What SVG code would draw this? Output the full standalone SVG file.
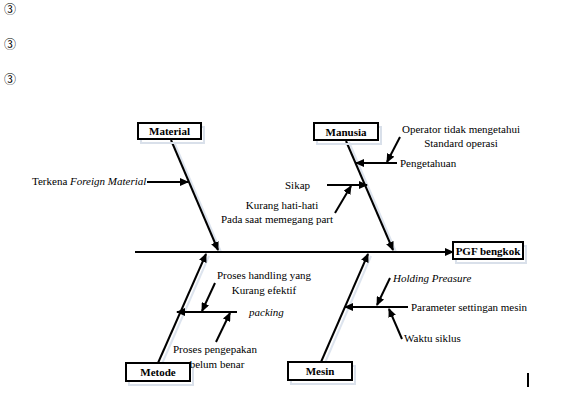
<svg xmlns="http://www.w3.org/2000/svg" width="566" height="403" viewBox="0 0 566 403">
<style>
text{font-family:"Liberation Serif","Times New Roman",serif;font-size:11px;fill:#000}
.b{font-weight:bold}
.i{font-style:italic}
.box{fill:#fff;stroke:#000;stroke-width:2}
.sh{fill:none;stroke:#d9e0ea;stroke-width:2}
.ln{stroke:#000;stroke-width:2;fill:none;marker-end:url(#ah)}
.bs{stroke:#dde4ee;stroke-width:2;fill:none}
.sym{font-family:"Noto Sans CJK SC","DejaVu Sans",sans-serif;font-size:12px}
</style>
<defs>
<marker id="ah" markerUnits="userSpaceOnUse" markerWidth="9" markerHeight="8" refX="8" refY="4" orient="auto">
<path d="M0,0 L9,4 L0,8 z" fill="#000"/>
</marker>
</defs>
<rect width="566" height="403" fill="#fff"/>
<g id="bullets">
<text class="sym" x="4" y="13.5">③</text>
<text class="sym" x="4" y="48.5">③</text>
<text class="sym" x="4" y="83.5">③</text>
</g>
<g id="connectors">
<line class="bs" x1="174" y1="142" x2="221" y2="252"/>
<line class="bs" x1="349" y1="142" x2="396" y2="252"/>
<line class="bs" x1="161" y1="366" x2="209" y2="256"/>
<line class="bs" x1="324" y1="365" x2="371" y2="256"/>
<line class="ln" x1="135" y1="252" x2="453" y2="252"/>
<line class="ln" x1="171" y1="140" x2="218" y2="250"/>
<line class="ln" x1="346" y1="141" x2="393" y2="250"/>
<line class="ln" x1="158" y1="363" x2="206" y2="254"/>
<line class="ln" x1="321" y1="362" x2="368" y2="254"/>
<line class="ln" x1="147" y1="182" x2="188" y2="182"/>
<line class="ln" x1="397" y1="163" x2="356" y2="163"/>
<line class="ln" x1="400" y1="137" x2="387" y2="162"/>
<line class="ln" x1="327" y1="185" x2="367" y2="185"/>
<line class="ln" x1="335" y1="213" x2="351" y2="186"/>
<line class="ln" x1="237" y1="312" x2="177" y2="312"/>
<line class="ln" x1="215" y1="283" x2="202" y2="311"/>
<line class="ln" x1="216" y1="342" x2="230" y2="313"/>
<line class="ln" x1="408" y1="307" x2="345" y2="307"/>
<line class="ln" x1="390" y1="278" x2="377" y2="305"/>
<line class="ln" x1="402" y1="339" x2="389" y2="309"/>
</g>
<g id="material">
<rect class="sh" x="141" y="127" width="63" height="16"/>
<rect class="box" x="138" y="123" width="63" height="16"/>
<text class="b" x="169.5" y="135" text-anchor="middle">Material</text>
</g>
<g id="manusia">
<rect class="sh" x="317" y="127" width="64" height="17"/>
<rect class="box" x="314" y="123" width="64" height="17"/>
<text class="b" x="346" y="135.5" text-anchor="middle">Manusia</text>
</g>
<g id="metode">
<rect class="sh" x="129" y="367" width="64" height="18"/>
<rect class="box" x="126" y="363" width="64" height="18"/>
<text class="b" x="158" y="376" text-anchor="middle">Metode</text>
</g>
<g id="mesin">
<rect class="sh" x="291" y="366" width="64" height="18"/>
<rect class="box" x="288" y="362" width="64" height="18"/>
<text class="b" x="320" y="375" text-anchor="middle">Mesin</text>
</g>
<g id="pgf">
<rect class="sh" x="456" y="246" width="70" height="17"/>
<rect class="box" x="453" y="242" width="70" height="17"/>
<text class="b" x="488" y="254.5" text-anchor="middle">PGF bengkok</text>
</g>
<g id="labels">
<text x="32" y="185">Terkena <tspan class="i">Foreign Material</tspan></text>
<text x="461" y="133" text-anchor="middle">Operator tidak mengetahui</text>
<text x="461" y="147" text-anchor="middle">Standard operasi</text>
<text x="400" y="167">Pengetahuan</text>
<text x="285" y="189">Sikap</text>
<text x="282" y="209" text-anchor="middle">Kurang hati-hati</text>
<text x="277" y="223" text-anchor="middle">Pada saat memegang part</text>
<text x="264" y="279" text-anchor="middle">Proses handling yang</text>
<text x="264" y="294" text-anchor="middle">Kurang efektif</text>
<text class="i" x="249" y="316">packing</text>
<text x="215" y="353" text-anchor="middle">Proses pengepakan</text>
<text x="217" y="368" text-anchor="middle">belum benar</text>
<text class="i" x="393" y="282">Holding Preasure</text>
<text x="411" y="311">Parameter settingan mesin</text>
<text x="404" y="342">Waktu siklus</text>
</g>
<line x1="528" y1="373" x2="528" y2="387" stroke="#000" stroke-width="2"/>
</svg>
